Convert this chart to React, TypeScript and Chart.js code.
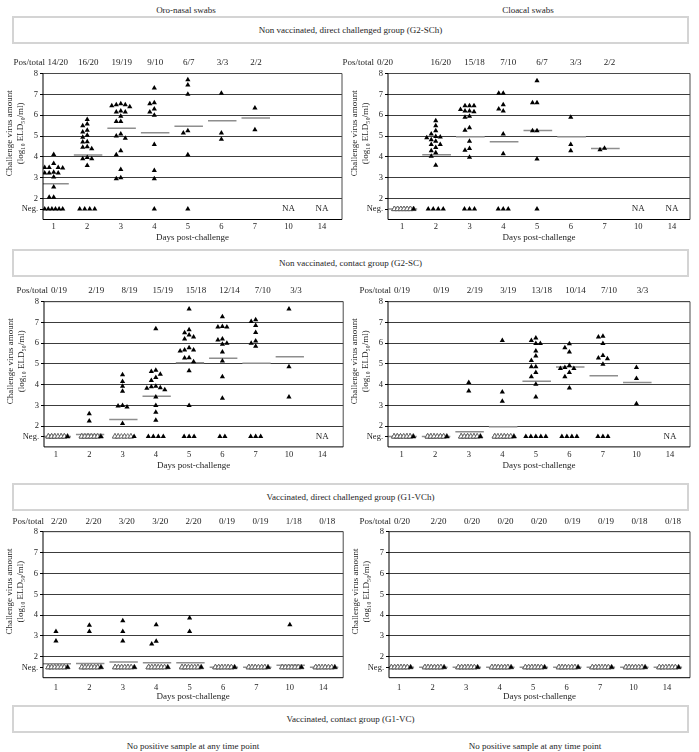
import React, { useEffect, useRef } from "react";
import { Chart, registerables } from "chart.js";
Chart.register(...registerables);

const SERIF = "'Liberation Serif', 'DejaVu Serif', 'Times New Roman', serif";
const TEXT = "#1e1e1e";
const NEG = 1.5;

// ---------- categories ----------
const DAYS = ["1", "2", "3", "4", "5", "6", "7", "10", "14"];
const Y_TICKS = [1.5, 2, 3, 4, 5, 6, 7, 8];

// ---------- Oro-nasal, non vaccinated direct challenged (G2-SCh) ----------
const onDirPosTotal = ["14/20", "16/20", "19/19", "9/10", "6/7", "3/3", "2/2"];
const onDirValues: (number[] | null)[] = [
  [4.12, 3.68, 3.49, 3.49, 3.47, 3.49, 3.23, 3.23, 3.27, 3.23, 3.04, 2.56, 2.07, 2.07],
  [5.8, 5.58, 5.49, 5.28, 5.2, 5.04, 4.94, 4.73, 4.72, 4.46, 4.39, 4.49, 3.91, 3.91, 3.97, 3.59],
  [6.5, 6.55, 6.4, 6.5, 6.45, 6.15, 6.2, 6.15, 5.95, 5.7, 5.7, 5.1, 5.0, 4.9, 4.3, 4.1, 3.4, 2.95, 3.0],
  [7.3, 6.6, 6.55, 6.3, 6.15, 6.0, 4.6, 3.35, 2.95],
  [7.7, 7.45, 7.0, 5.15, 5.25, 4.1],
  [7.05, 5.15, 4.85],
  [6.35, 5.3],
  null,
  null,
];
const onDirNeg = [6, 4, 0, 1, 1, 0, 0, 0, 0];
const onDirMean = [2.72, 4.09, 5.37, 5.16, 5.47, 5.73, 5.87, null, null];

// ---------- Cloacal, non vaccinated direct challenged (G2-SCh) ----------
const clDirPosTotal = ["0/20", "16/20", "15/18", "7/10", "6/7", "3/3", "2/2"];
const clDirValues: (number[] | null)[] = [
  [],
  [5.73, 5.5, 5.25, 5.1, 4.92, 4.98, 4.95, 4.75, 4.82, 4.6, 4.6, 4.45, 4.3, 4.2, 4.03, 3.6],
  [6.27, 6.45, 6.45, 6.45, 6.17, 6.2, 6.2, 5.9, 5.95, 5.28, 5.4, 4.75, 4.32, 4.4, 3.98],
  [7.05, 7.05, 6.5, 6.3, 6.2, 5.1, 4.15],
  [7.65, 6.6, 6.6, 5.25, 5.25, 3.9],
  [5.9, 4.6, 4.3],
  [4.35, 4.42],
  null,
  null,
];
const clDirNeg = [20, 4, 3, 3, 1, 0, 0, 0, 0];
const clDirMean = [1.5, 4.1, 4.97, 4.73, 5.27, 4.97, 4.41, null, null];

// ---------- Oro-nasal, non vaccinated contact (G2-SC) ----------
const onConPosTotal = ["0/19", "2/19", "8/19", "15/19", "15/18", "12/14", "7/10", "3/3"];
const onConValues: (number[] | null)[] = [
  [],
  [2.6, 2.25],
  [4.48, 4.15, 3.92, 3.68, 2.92, 3.0, 2.97, 2.13],
  [6.7, 4.63, 4.7, 4.5, 4.35, 4.2, 3.83, 3.9, 3.76, 3.92, 3.85, 3.4, 3.0, 2.67, 2.28],
  [7.65, 6.3, 6.5, 6.65, 6.4, 6.2, 5.67, 5.67, 5.78, 5.62, 5.3, 5.28, 5.1, 4.67, 3.0],
  [7.28, 6.78, 6.78, 6.8, 6.0, 6.2, 6.15, 5.95, 5.57, 5.14, 4.38, 3.35],
  [7.13, 7.05, 6.85, 6.52, 6.0, 6.1, 5.85],
  [7.65, 4.87, 3.4],
  null,
];
const onConNeg = [19, 17, 11, 4, 3, 2, 3, 0, 0];
const onConMean = [1.5, 1.6, 2.32, 3.44, 5.06, 5.27, 5.03, 5.35, null];

// ---------- Cloacal, non vaccinated contact (G2-SC) ----------
const clConPosTotal = ["0/19", "0/19", "2/19", "3/19", "13/18", "10/14", "7/10", "3/3"];
const clConValues: (number[] | null)[] = [
  [],
  [],
  [4.1, 3.7],
  [6.13, 3.65, 3.2],
  [6.25, 6.13, 5.98, 5.98, 5.62, 5.38, 5.17, 4.87, 4.87, 4.59, 4.38, 4.02, 3.4],
  [5.97, 5.78, 5.57, 4.78, 4.83, 4.93, 4.78, 4.59, 4.38, 3.84],
  [6.3, 6.33, 5.98, 5.41, 5.25, 5.29, 4.98],
  [4.83, 4.3, 3.08],
  null,
];
const clConNeg = [19, 19, 17, 16, 5, 4, 3, 0, 0];
const clConMean = [1.5, 1.5, 1.73, 1.97, 4.16, 4.85, 4.43, 4.11, null];

// ---------- Oro-nasal, vaccinated direct challenged (G1-VCh) ----------
const onVacPosTotal = ["2/20", "2/20", "3/20", "3/20", "2/20", "0/19", "0/19", "1/18", "0/18"];
const onVacValues: (number[] | null)[] = [
  [3.22, 2.76],
  [3.52, 3.22],
  [3.73, 3.22, 2.76],
  [3.54, 2.75, 2.62],
  [3.86, 3.22],
  [],
  [],
  [3.54],
  [],
];
const onVacNeg = [18, 18, 17, 17, 18, 19, 19, 17, 18];
const onVacMean = [1.67, 1.68, 1.75, 1.72, 1.72, 1.5, 1.5, 1.6, 1.5];

// ---------- Cloacal, vaccinated direct challenged (G1-VCh) ----------
const clVacPosTotal = ["0/20", "2/20", "0/20", "0/20", "0/20", "0/19", "0/19", "0/18", "0/18"];
const clVacValues: (number[] | null)[] = [[], [], [], [], [], [], [], [], []];
const clVacNeg = [20, 20, 20, 20, 20, 19, 19, 18, 18];
const clVacMean = [1.5, 1.5, 1.5, 1.5, 1.5, 1.5, 1.5, 1.5, 1.5];

// ---------- layout (style) ----------
type Row = { posY: number; plotTop: number; plotBottom: number; labelPad: number; titleY: number };
const ROW_A: Row = { posY: 63, plotTop: 73.5, plotBottom: 219.5, labelPad: 2.2, titleY: 237.2 };
const ROW_B: Row = { posY: 291, plotTop: 301.7, plotBottom: 446.9, labelPad: 3.1, titleY: 466 };
const ROW_C: Row = { posY: 521.7, plotTop: 531.7, plotBottom: 677.7, labelPad: 4.6, titleY: 696.5 };

type Geo = {
  canvasLeft: number; canvasWidth: number; plotLeft: number; plotRight: number;
  cat1: number; cat9: number; prefixDx: number; firstDx: number; labelDx: number;
};

type PanelCfg = {
  row: Row; geo: Geo; posTotal: string[]; values: (number[] | null)[]; neg: number[]; mean: (number | null)[];
};

const PANELS: PanelCfg[] = [
  { row: ROW_A, posTotal: onDirPosTotal, values: onDirValues, neg: onDirNeg, mean: onDirMean,
    geo: { canvasLeft: 0, canvasWidth: 348, plotLeft: 43, plotRight: 342, cat1: 53.7, cat9: 322, prefixDx: 2, firstDx: 4.5, labelDx: 1 } },
  { row: ROW_A, posTotal: clDirPosTotal, values: clDirValues, neg: clDirNeg, mean: clDirMean,
    geo: { canvasLeft: 340, canvasWidth: 359, plotLeft: 388, plotRight: 690, cat1: 402, cat9: 672, prefixDx: -14, firstDx: -11, labelDx: 5 } },
  { row: ROW_B, posTotal: onConPosTotal, values: onConValues, neg: onConNeg, mean: onConMean,
    geo: { canvasLeft: 0, canvasWidth: 348, plotLeft: 44, plotRight: 344, cat1: 56, cat9: 323, prefixDx: 4, firstDx: 7, labelDx: 7 } },
  { row: ROW_B, posTotal: clConPosTotal, values: clConValues, neg: clConNeg, mean: clConMean,
    geo: { canvasLeft: 340, canvasWidth: 359, plotLeft: 388, plotRight: 690, cat1: 401.7, cat9: 670, prefixDx: 3, firstDx: 6, labelDx: 6 } },
  { row: ROW_C, posTotal: onVacPosTotal, values: onVacValues, neg: onVacNeg, mean: onVacMean,
    geo: { canvasLeft: 0, canvasWidth: 348, plotLeft: 43, plotRight: 344, cat1: 56, cat9: 324, prefixDx: 1, firstDx: 8, labelDx: 4 } },
  { row: ROW_C, posTotal: clVacPosTotal, values: clVacValues, neg: clVacNeg, mean: clVacMean,
    geo: { canvasLeft: 340, canvasWidth: 359, plotLeft: 389, plotRight: 690, cat1: 399, cat9: 667, prefixDx: 2, firstDx: 5, labelDx: 6 } },
];

// beeswarm placement of positives within a day (layout rule, not data)
function swarm(vals: number[], stepU: number, thr: number) {
  const sorted = [...vals].sort((a, b) => b - a);
  const placed: { s: number; v: number }[] = [];
  for (const v of sorted) {
    for (let k = 0; k < 60; k++) {
      const s = k === 0 ? 0 : k % 2 === 1 ? -Math.ceil(k / 2) : Math.ceil(k / 2);
      if (!placed.some((p) => p.s === s && Math.abs(p.v - v) < thr)) {
        placed.push({ s, v });
        break;
      }
    }
  }
  return placed.map((p) => ({ dx: p.s * stepU, v: p.v }));
}

// negatives: a short row of triangles; large counts overlap into a hatched strip
function negOffsets(n: number, unit: number) {
  if (n <= 0) return { hatched: false, dx: [] as number[] };
  const hatched = n > 6;
  if (!hatched) {
    const sp = n > 5 ? 3.6 : 5;
    const w = (n - 1) * sp;
    return { hatched, dx: Array.from({ length: n }, (_, j) => (-w / 2 + j * sp) / unit) };
  }
  const m = 7;
  const sp = 3.2;
  const w = (m - 1) * sp;
  return {
    hatched,
    dx: Array.from({ length: n }, (_, j) => (-w / 2 + 2 + Math.floor((j * m) / n) * sp) / unit),
  };
}

const decor = {
  id: "decor",
  afterDraw(chart: any, _a: any, opts: any) {
    const { ctx, chartArea: ca, scales } = chart;
    const xs = scales.x;
    const ys = scales.y;
    ctx.save();
    ctx.lineWidth = 1;
    ctx.strokeStyle = "#4a4a4a";
    ctx.beginPath();
    ctx.moveTo(ca.left, ca.top);
    ctx.lineTo(ca.right, ca.top);
    ctx.lineTo(ca.right, ca.bottom);
    ctx.stroke();
    ctx.strokeStyle = "#000";
    ctx.beginPath();
    ctx.moveTo(ca.left, ca.top);
    ctx.lineTo(ca.left, ca.bottom);
    ctx.lineTo(ca.right, ca.bottom);
    ctx.stroke();

    ctx.fillStyle = TEXT;
    ctx.font = `9px ${SERIF}`;
    ctx.textBaseline = "middle";
    const py = opts.posY;
    ctx.textAlign = "right";
    ctx.fillText("Pos/total", ca.left + opts.prefixDx, py);
    opts.posTotal.forEach((t: string, i: number) => {
      if (i === 0) {
        ctx.textAlign = "left";
        ctx.fillText(t, ca.left + opts.firstDx, py);
      } else {
        ctx.textAlign = "center";
        ctx.fillText(t, xs.getPixelForValue(i + 1) + opts.labelDx, py);
      }
    });
    ctx.textAlign = "center";
    opts.na.forEach((i: number) => ctx.fillText("NA", xs.getPixelForValue(i + 1), ys.getPixelForValue(NEG)));

    const cy = ca.top + (ca.bottom - ca.top) * 0.41;
    ctx.save();
    ctx.translate(ca.left - 33, cy);
    ctx.rotate(-Math.PI / 2);
    ctx.fillText("Challenge virus amount", 0, 0);
    ctx.restore();
    ctx.save();
    ctx.translate(ca.left - 22, cy);
    ctx.rotate(-Math.PI / 2);
    ctx.fillText("(log\u2081\u2080 ELD\u2085\u2080/ml)", 0, 0);
    ctx.restore();
    ctx.restore();
  },
};

function Panel({ cfg }: { cfg: PanelCfg }) {
  const ref = useRef<HTMLCanvasElement>(null);
  const { row, geo } = cfg;
  const canvasTop = Math.floor(row.posY - 8);
  const canvasH = Math.ceil(row.titleY + 5.4 - canvasTop);
  const xScaleH = canvasTop + canvasH - row.plotBottom;
  const titlePadBottom = canvasTop + canvasH - 5.4 - row.titleY;
  const unit = (geo.cat9 - geo.cat1) / 8;
  const xMin = 1 - (geo.cat1 - geo.plotLeft) / unit;
  const xMax = 9 + (geo.plotRight - geo.cat9) / unit;

  useEffect(() => {
    const pos: { x: number; y: number }[] = [];
    const neg: { x: number; y: number }[] = [];
    const negBg: string[] = [];
    const negBw: number[] = [];
    const negBc: string[] = [];
    const means: { x: number; y: number | null }[] = [];
    const na: number[] = [];
    cfg.values.forEach((vals, i) => {
      const c = i + 1;
      if (vals === null) {
        na.push(i);
        return;
      }
      swarm(vals, 4.5 / unit, 0.21).forEach((p) => pos.push({ x: c + p.dx, y: p.v }));
      const no = negOffsets(cfg.neg[i], unit);
      no.dx.forEach((dx, j) => {
        neg.push({ x: c + dx, y: NEG });
        const last = j === no.dx.length - 1;
        const open = no.hatched && !last;
        negBg.push(open ? "#ffffff" : "#000000");
        negBw.push(open ? 0.8 : 0);
        negBc.push(open ? "#5a5a5a" : "#000000");
      });
    });
    cfg.mean.forEach((m, i) => {
      if (m === null) return;
      const c = i + 1;
      means.push({ x: c - 0.4, y: m }, { x: c + 0.45, y: m }, { x: c + 0.5, y: null });
    });

    const chart = new Chart(ref.current as HTMLCanvasElement, {
      type: "scatter",
      data: {
        datasets: [
          {
            data: pos,
            pointStyle: "triangle",
            pointRadius: 3,
            backgroundColor: "#000",
            borderColor: "#000",
            borderWidth: 0,
          },
          {
            data: neg,
            pointStyle: "triangle",
            pointRadius: 3,
            pointBackgroundColor: negBg,
            pointBorderColor: negBc,
            pointBorderWidth: negBw,
          },
          {
            data: means as any,
            showLine: true,
            spanGaps: false,
            pointRadius: 0,
            borderColor: "#8e8e8e",
            borderWidth: 1.5,
          },
        ] as any,
      },
      options: {
        animation: false,
        responsive: false,
        devicePixelRatio: 1,
        events: [],
        layout: { padding: { top: row.plotTop - canvasTop, right: geo.canvasLeft + geo.canvasWidth - geo.plotRight, left: 0, bottom: 0 } },
        plugins: {
          legend: { display: false },
          tooltip: { enabled: false },
          decor: {
            posY: row.posY - canvasTop,
            posTotal: cfg.posTotal,
            prefixDx: geo.prefixDx,
            firstDx: geo.firstDx,
            labelDx: geo.labelDx,
            na,
          },
        } as any,
        scales: {
          x: {
            type: "linear",
            min: xMin,
            max: xMax,
            afterFit: (s: any) => {
              s.height = xScaleH;
            },
            afterBuildTicks: (s: any) => {
              s.ticks = DAYS.map((_, i) => ({ value: i + 1 }));
            },
            grid: { display: false, drawTicks: false },
            border: { display: false },
            ticks: {
              padding: row.labelPad,
              color: TEXT,
              font: { family: SERIF, size: 8.5 },
              maxRotation: 0,
              autoSkip: false,
              callback: (v: any) => DAYS[Math.round(v) - 1] ?? "",
            },
            title: {
              display: true,
              text: "Days post-challenge",
              color: TEXT,
              font: { family: SERIF, size: 9, lineHeight: 1.2 },
              padding: { top: 0, bottom: titlePadBottom },
            },
          },
          y: {
            min: 1,
            max: 8,
            afterFit: (s: any) => {
              s.width = geo.plotLeft - geo.canvasLeft;
            },
            afterBuildTicks: (s: any) => {
              s.ticks = Y_TICKS.map((v) => ({ value: v }));
            },
            grid: {
              color: (c: any) => (c.tick && c.tick.value === NEG ? "rgba(0,0,0,0)" : "#3c3c3c"),
              tickColor: "#000",
              tickLength: 3,
              lineWidth: 1,
            },
            border: { display: false },
            ticks: {
              padding: 2,
              color: TEXT,
              font: { family: SERIF, size: 8.5 },
              autoSkip: false,
              callback: (v: any) => (v === NEG ? "Neg." : String(v)),
            },
          },
        },
      },
      plugins: [decor],
    } as any);
    return () => chart.destroy();
  }, []);

  return (
    <canvas
      ref={ref}
      width={geo.canvasWidth}
      height={canvasH}
      style={{ position: "absolute", left: geo.canvasLeft, top: canvasTop, width: geo.canvasWidth, height: canvasH }}
    />
  );
}

function Txt({ x, y, children }: { x: number; y: number; children: any }) {
  return (
    <div
      style={{
        position: "absolute",
        left: x,
        top: y,
        transform: "translate(-50%, -50%)",
        whiteSpace: "nowrap",
        fontSize: 9,
        lineHeight: "10px",
      }}
    >
      {children}
    </div>
  );
}

function Box({ top, h, children }: { top: number; h: number; children: any }) {
  return (
    <div
      style={{
        position: "absolute",
        left: 12,
        top,
        width: 677,
        height: h,
        boxSizing: "border-box",
        border: "2px solid #d4d4d4",
        display: "flex",
        alignItems: "center",
        justifyContent: "center",
        fontSize: 9,
        whiteSpace: "nowrap",
      }}
    >
      {children}
    </div>
  );
}

export default function App() {
  return (
    <div
      style={{
        position: "absolute",
        left: 0,
        top: 0,
        width: 699,
        height: 752,
        background: "#fff",
        fontFamily: SERIF,
        color: TEXT,
        overflow: "hidden",
      }}
    >
      <Txt x={186} y={10}>Oro-nasal swabs</Txt>
      <Txt x={528} y={10}>Cloacal swabs</Txt>
      <Box top={16} h={28}>Non vaccinated, direct challenged group (G2-SCh)</Box>
      <Box top={249} h={28}>Non vaccinated, contact group (G2-SC)</Box>
      <Box top={482.5} h={28}>Vaccinated, direct challenged group (G1-VCh)</Box>
      <Box top={704.5} h={28.5}>Vaccinated, contact group (G1-VC)</Box>
      {PANELS.map((p, i) => (
        <Panel key={i} cfg={p} />
      ))}
      <Txt x={193} y={746}>No positive sample at any time point</Txt>
      <Txt x={535} y={746}>No positive sample at any time point</Txt>
    </div>
  );
}
